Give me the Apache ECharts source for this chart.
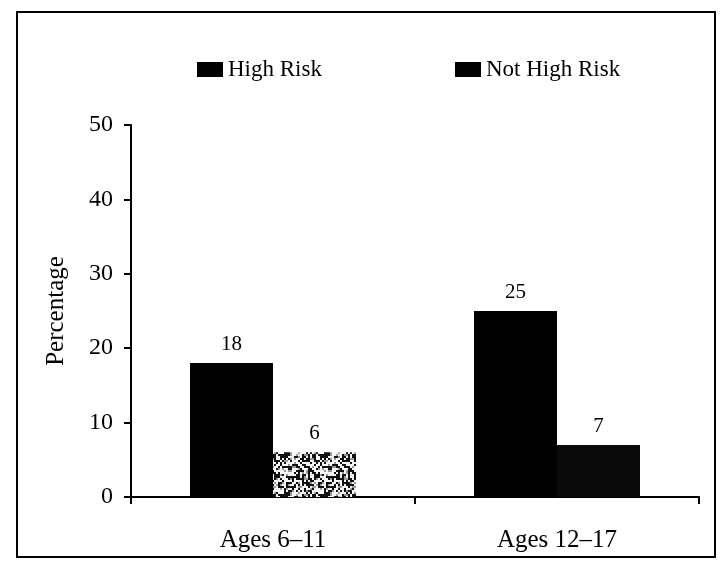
<!DOCTYPE html>
<html><head><meta charset="utf-8">
<script src="https://cdn.jsdelivr.net/npm/echarts@6/dist/echarts.min.js"></script>
<style>html,body{margin:0;padding:0;background:#fff}#c{width:720px;height:566px}</style>
</head><body><div id="c"></div>
<script>
const categories = ['Ages 6–11', 'Ages 12–17'];
const highRisk = [18, 25];
const notHighRisk = [6, 7];
const yTicks = [0, 10, 20, 30, 40, 50];

// speckled texture for the grainy bar (deterministic)
function speckle() {
  const cv = document.createElement('canvas');
  cv.width = 40; cv.height = 40;
  const ctx = cv.getContext('2d');
  let s = 12345;
  function nx() { s = (s * 1103515245 + 12345) % 2147483648; return s / 2147483648; }
  for (let y = 0; y < 40; y += 2) {
    for (let x = 0; x < 40; x += 2) {
      const v = nx();
      ctx.fillStyle = v < 0.42 ? '#111' : (v < 0.55 ? '#999' : '#f6f6f6');
      ctx.fillRect(x, y, 2, 2);
    }
  }
  return cv;
}
const tex = speckle();

const font = 'Liberation Serif';
const chart = echarts.init(document.getElementById('c'));
chart.setOption({
  animation: false,
  textStyle: { fontFamily: font, color: '#000' },
  graphic: [{
    type: 'rect', shape: { x: 17, y: 12, width: 698, height: 545 },
    style: { fill: 'none', stroke: '#000', lineWidth: 2 }, silent: true
  }],
  legend: [
    {
      top: 53, left: 192, itemWidth: 26, itemHeight: 15, icon: 'rect', itemGap: 10,
      textStyle: { fontFamily: font, fontSize: 23, color: '#000' },
      data: [{ name: 'High Risk', itemStyle: { color: '#000' } }]
    },
    {
      top: 53, left: 450, itemWidth: 26, itemHeight: 15, icon: 'rect', itemGap: 10,
      textStyle: { fontFamily: font, fontSize: 23, color: '#000' },
      data: [{ name: 'Not High Risk', itemStyle: { color: '#000' } }]
    }
  ],
  grid: { left: 131, top: 125, width: 568, height: 372, containLabel: false },
  xAxis: {
    type: 'category', data: categories,
    axisLine: { lineStyle: { color: '#000', width: 2 } },
    axisTick: { show: true, length: 7, lineStyle: { color: '#000', width: 2 } },
    axisLabel: { fontFamily: font, fontSize: 25, color: '#000', margin: 31 }
  },
  yAxis: {
    type: 'value', min: 0, max: 50, interval: 10,
    name: 'Percentage', nameLocation: 'middle', nameGap: 62, nameRotate: 90,
    nameTextStyle: { fontFamily: font, fontSize: 25, color: '#000' },
    axisLine: { show: true, lineStyle: { color: '#000', width: 2 } },
    axisTick: { show: true, length: 7, lineStyle: { color: '#000', width: 2 } },
    axisLabel: { fontFamily: font, fontSize: 24, color: '#000', margin: 18,
      formatter: v => yTicks.includes(v) ? String(v) : '' },
    splitLine: { show: false }
  },
  series: [
    {
      name: 'High Risk', type: 'bar', barWidth: 83, barGap: '0%',
      itemStyle: { color: '#000' },
      label: { show: true, position: 'top', distance: 8, fontFamily: font, fontSize: 21, color: '#000' },
      data: highRisk
    },
    {
      name: 'Not High Risk', type: 'bar', barWidth: 83,
      label: { show: true, position: 'top', distance: 8, fontFamily: font, fontSize: 21, color: '#000' },
      data: notHighRisk.map((v, i) => ({
        value: v,
        itemStyle: { color: i === 0 ? { image: tex, repeat: 'repeat' } : '#0a0a0a' }
      }))
    }
  ]
});
</script></body></html>
